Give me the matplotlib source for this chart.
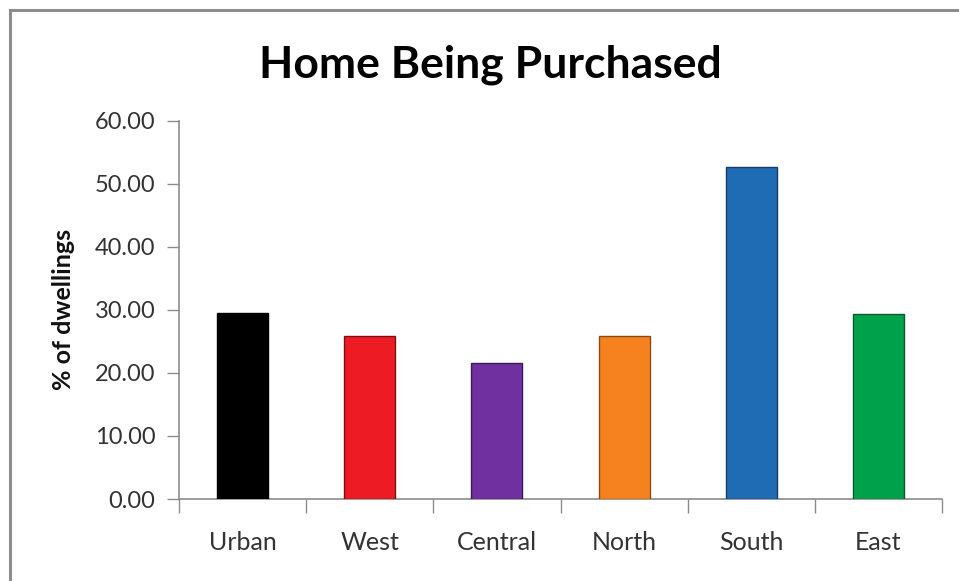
import matplotlib
matplotlib.use("Agg")
import matplotlib.pyplot as plt
from matplotlib.patches import Rectangle
import numpy as np

# Share of dwellings being purchased, by region
regions = ["Urban", "West", "Central", "North", "South", "East"]
pct_purchased = [29.5, 25.8, 21.6, 25.9, 52.7, 29.3]
bar_colors = ["#000000", "#ED1C24", "#70309F", "#F5821F", "#1F6CB4", "#00A14B"]
edge_colors = ["#000000", "#7a1015", "#3a1a55", "#8a4a12", "#173d66", "#0b5a2c"]
y_ticks = [0, 10, 20, 30, 40, 50, 60]

plt.rcParams["font.family"] = ["Lato", "DejaVu Sans"]

fig = plt.figure(figsize=(9.59, 5.81), dpi=100)
fig.patch.set_facecolor("white")

# chart frame (only top and left edges fall inside the image)
fig.patches.append(Rectangle((9.5 / 959, -0.2), 1.2, 1.2 - 9.5 / 581, transform=fig.transFigure,
                             fill=False, edgecolor="#8c8c8c", linewidth=2.2))

ax = fig.add_axes([179 / 959, 82 / 581, 763 / 959, 378.3 / 581])
x = np.arange(len(regions))
ax.bar(x, pct_purchased, width=0.4, color=bar_colors, edgecolor=edge_colors, linewidth=1.0, zorder=3)

ax.set_xlim(-0.5, len(regions) - 0.5)
ax.set_ylim(0, 60)
ax.set_yticks(y_ticks)
ax.set_yticklabels([f"{v:.2f}" for v in y_ticks], fontsize=17, color="#333333")
ax.set_xticks(x)
ax.set_xticklabels(regions, fontsize=18, color="#333333")
ax.set_xticks(np.arange(-0.5, len(regions), 1.0), minor=True)
ax.tick_params(axis="x", which="major", length=0, pad=23)
ax.tick_params(axis="x", which="minor", length=10, width=1, color="#8c8c8c", direction="out")
ax.tick_params(axis="y", length=9, width=1, color="#8c8c8c", direction="out", pad=8)

for side in ("top", "right"):
    ax.spines[side].set_visible(False)
for side in ("left", "bottom"):
    ax.spines[side].set_color("#8c8c8c")
    ax.spines[side].set_linewidth(1.2)

ax.set_ylabel("% of dwellings", fontsize=18, fontweight="bold", color="#111111", labelpad=14)

fig.text(490 / 959, 1 - 65 / 581, "Home Being Purchased", ha="center", va="center",
         fontsize=32, fontweight="bold", color="#000000")

fig.savefig("out.png", dpi=100, facecolor="white")
